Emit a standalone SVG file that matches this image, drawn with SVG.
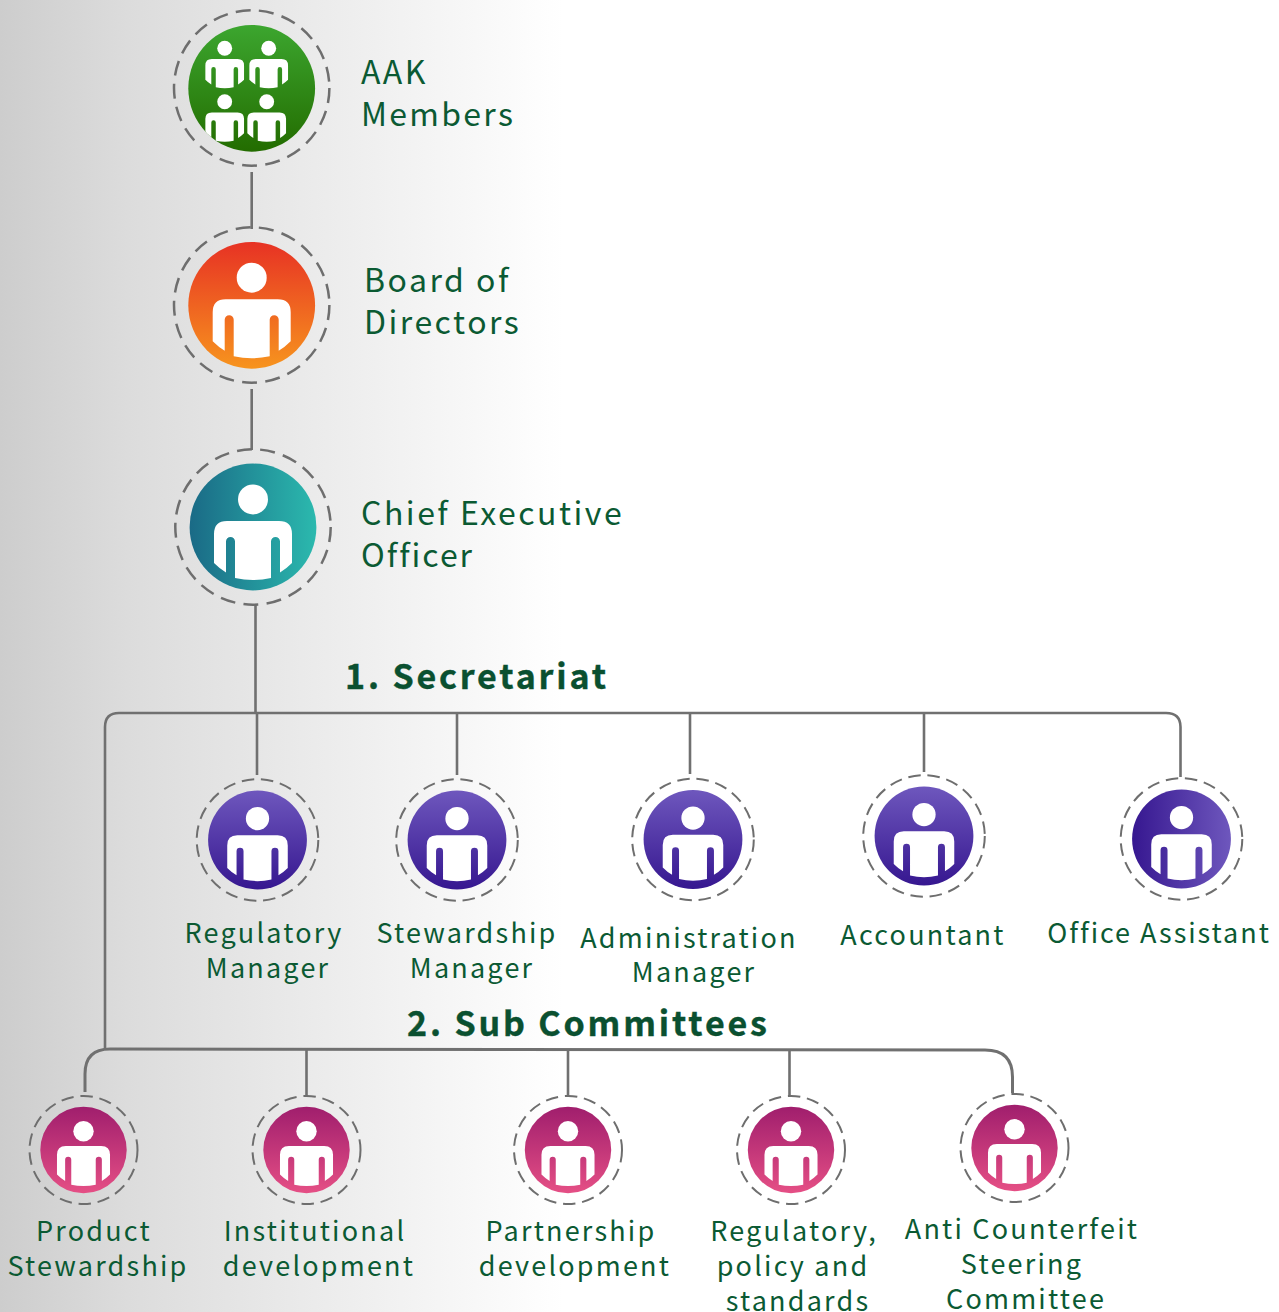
<svg xmlns="http://www.w3.org/2000/svg" xmlns:xlink="http://www.w3.org/1999/xlink" width="1279" height="1312" viewBox="0 0 1279 1312">
<style>
.d{fill:none;stroke:#6e6e6e;stroke-linecap:butt}
.d1{stroke-width:2.500;stroke-dasharray:15 8.300}
.d2{stroke-width:2;stroke-dasharray:12.500 6.800}
.c{fill:none;stroke:#707070;stroke-width:2.600}
text{font-family:"Noto Sans CJK SC","Noto Sans",sans-serif;fill:#0b5a33}
.l{font-size:32px;letter-spacing:2.500px}
.m{font-size:27px;letter-spacing:2.200px}
.h{font-size:34px;font-weight:700;letter-spacing:2.850px;fill:#0a5030;stroke:#0a5030;stroke-width:.4px}
</style>
<defs>
<linearGradient id="bg" x1="0" x2="1" y1="0" y2="0"><stop offset="0" stop-color="#cdcdcd"/><stop offset=".1" stop-color="#dcdcdc"/><stop offset=".44" stop-color="#ffffff"/></linearGradient>
<linearGradient id="gr" x1="0" x2="0" y1="0" y2="1"><stop offset="0" stop-color="#3ca62f"/><stop offset="1" stop-color="#236c00"/></linearGradient>
<linearGradient id="or" x1="0" x2="0" y1="0" y2="1"><stop offset="0" stop-color="#e73224"/><stop offset="1" stop-color="#f7941e"/></linearGradient>
<linearGradient id="te" x1="0" x2="1" y1="0" y2="0"><stop offset="0" stop-color="#1a6a86"/><stop offset="1" stop-color="#2bb9ae"/></linearGradient>
<linearGradient id="pu" x1="0" x2="0" y1="0" y2="1"><stop offset="0" stop-color="#6e57bd"/><stop offset="1" stop-color="#361790"/></linearGradient>
<linearGradient id="pa" x1="0" x2="1" y1="0" y2="0"><stop offset="0" stop-color="#361790"/><stop offset="1" stop-color="#6e57bd"/></linearGradient>
<linearGradient id="pi" x1="0" x2="0" y1="0" y2="1"><stop offset="0" stop-color="#a01e6d"/><stop offset="1" stop-color="#e54f85"/></linearGradient>
<clipPath id="gc"><circle cx="251.700" cy="88.300" r="63.400"/></clipPath>
<g id="p"><circle cx="0" cy="-27.600" r="15" fill="#fff"/><path fill="#fff" d="M-39 36V7Q-39-6-26-6H26Q39-6 39 7V36Q33 42 27 45.500V14.500A4.500 4.500 0 0 0 18 14.500V51Q0 55-18 51V14.500A4.500 4.500 0 0 0-27 14.500V45.500Q-33 42-39 36Z"/></g>
</defs>
<rect width="1279" height="1312" fill="url(#bg)"/>
<g id="connectors">
<path class="c" d="M251.700 172V229M251.700 389V450M255.500 605V713"/>
<path class="c" d="M105 1048V727Q105 713 119 713H1166Q1180.500 713 1180.500 727V777M257 713V775M457 713V775M690 713V774M924 713V772"/>
<path class="c" style="stroke-width:3" d="M85 1092V1074Q85 1049 110 1049L985 1050Q1012.500 1050 1012.500 1077V1093"/>
<path class="c" d="M306.500 1049V1096M568 1049V1096M789.500 1050V1096"/>
</g>
<g id="aak"><circle class="d d1" cx="251.700" cy="88" r="77.700"/><circle cx="251.700" cy="88.300" r="63.400" fill="url(#gr)"/><g clip-path="url(#gc)"><use xlink:href="#p" transform="translate(224.700 62) scale(.496)"/><use xlink:href="#p" transform="translate(268.700 62) scale(.496)"/><use xlink:href="#p" transform="translate(224.700 115.400) scale(.496)"/><use xlink:href="#p" transform="translate(266.700 115.400) scale(.496)"/></g><text class="l" x="361" y="84">AAK</text><text class="l" x="361" y="126" style="letter-spacing:2.300px">Members</text></g>
<g id="board"><circle class="d d1" cx="251.700" cy="305" r="77.700"/><circle cx="251.700" cy="305.300" r="63.400" fill="url(#or)"/><use xlink:href="#p" transform="translate(251.700 305.300)"/><text class="l" x="364" y="292">Board of</text><text class="l" x="364" y="334">Directors</text></g>
<g id="ceo"><circle class="d d1" cx="253" cy="527" r="77.700"/><circle cx="253" cy="527" r="63.400" fill="url(#te)"/><use xlink:href="#p" transform="translate(253 527)"/><text class="l" x="361" y="525">Chief Executive</text><text class="l" x="361" y="567" style="letter-spacing:2px">Officer</text></g>
<text class="h" x="345" y="689">1. Secretariat</text>
<g id="reg"><circle class="d d2" cx="257.500" cy="840" r="60.800"/><circle cx="257.500" cy="840" r="49.400" fill="url(#pu)"/><use xlink:href="#p" transform="translate(257.500 840) scale(.776)"/><text class="m" text-anchor="middle" x="264" y="943">Regulatory</text><text class="m" text-anchor="middle" x="268" y="978">Manager</text></g>
<g id="stew"><circle class="d d2" cx="457" cy="840" r="60.800"/><circle cx="457" cy="840" r="49.400" fill="url(#pu)"/><use xlink:href="#p" transform="translate(457 840) scale(.776)"/><text class="m" text-anchor="middle" x="467" y="943">Stewardship</text><text class="m" text-anchor="middle" x="472" y="978">Manager</text></g>
<g id="admin"><circle class="d d2" cx="693" cy="839.500" r="60.800"/><circle cx="693" cy="839.500" r="49.400" fill="url(#pu)"/><use xlink:href="#p" transform="translate(693 839.500) scale(.776)"/><text class="m" text-anchor="middle" x="689" y="948">Administration</text><text class="m" text-anchor="middle" x="694" y="982">Manager</text></g>
<g id="acct"><circle class="d d2" cx="924" cy="836" r="60.800"/><circle cx="924" cy="836" r="49.400" fill="url(#pu)"/><use xlink:href="#p" transform="translate(924 836) scale(.776)"/><text class="m" text-anchor="middle" x="923" y="945">Accountant</text></g>
<g id="office"><circle class="d d2" cx="1181.500" cy="839" r="60.800"/><circle cx="1181.500" cy="839" r="49.400" fill="url(#pa)"/><use xlink:href="#p" transform="translate(1181.500 839) scale(.776)"/><text class="m" text-anchor="middle" x="1159" y="943" style="letter-spacing:1.950px">Office Assistant</text></g>
<text class="h" x="407" y="1036">2. Sub Committees</text>
<g id="prod"><circle class="d d2" cx="83.500" cy="1150" r="54"/><circle cx="83.500" cy="1150" r="43.200" fill="url(#pi)"/><use xlink:href="#p" transform="translate(83.500 1150) scale(.68)"/><text class="m" text-anchor="middle" x="94" y="1241">Product</text><text class="m" text-anchor="middle" x="98" y="1276">Stewardship</text></g>
<g id="inst"><circle class="d d2" cx="306.500" cy="1150" r="54"/><circle cx="306.500" cy="1150" r="43.200" fill="url(#pi)"/><use xlink:href="#p" transform="translate(306.500 1150) scale(.68)"/><text class="m" text-anchor="middle" x="315" y="1241">Institutional</text><text class="m" text-anchor="middle" x="319" y="1276">development</text></g>
<g id="part"><circle class="d d2" cx="568" cy="1150" r="54"/><circle cx="568" cy="1150" r="43.200" fill="url(#pi)"/><use xlink:href="#p" transform="translate(568 1150) scale(.68)"/><text class="m" text-anchor="middle" x="571" y="1241">Partnership</text><text class="m" text-anchor="middle" x="575" y="1276">development</text></g>
<g id="policy"><circle class="d d2" cx="791" cy="1150" r="54"/><circle cx="791" cy="1150" r="43.200" fill="url(#pi)"/><use xlink:href="#p" transform="translate(791 1150) scale(.68)"/><text class="m" text-anchor="middle" x="794" y="1241">Regulatory,</text><text class="m" text-anchor="middle" x="793" y="1276">policy and</text><text class="m" text-anchor="middle" x="798" y="1311">standards</text></g>
<g id="anti"><circle class="d d2" cx="1014.500" cy="1148" r="54"/><circle cx="1014.500" cy="1148" r="43.200" fill="url(#pi)"/><use xlink:href="#p" transform="translate(1014.500 1148) scale(.68)"/><text class="m" text-anchor="middle" x="1022" y="1239">Anti Counterfeit</text><text class="m" text-anchor="middle" x="1022" y="1274">Steering</text><text class="m" text-anchor="middle" x="1026" y="1309">Committee</text></g>
</svg>
